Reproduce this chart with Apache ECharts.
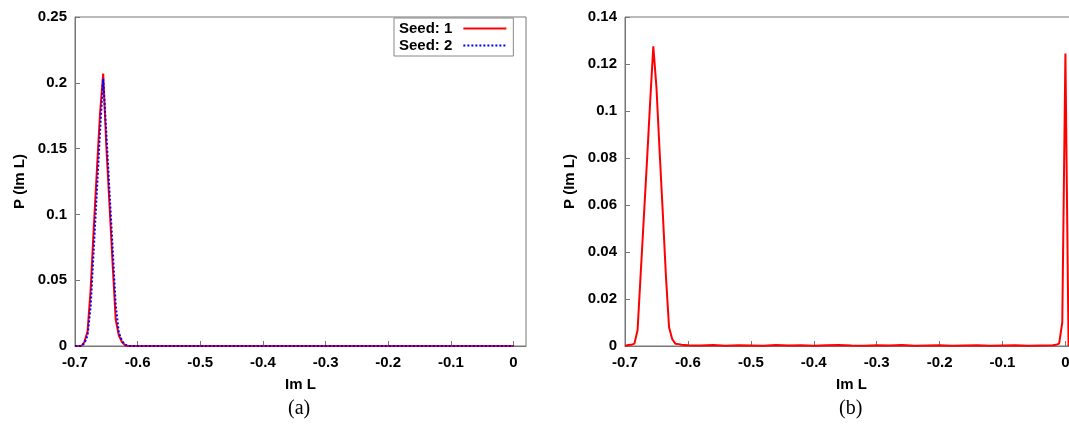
<!DOCTYPE html>
<html>
<head>
<meta charset="utf-8">
<script src="https://cdn.jsdelivr.net/npm/echarts@6/dist/echarts.min.js"></script>
<style>
html,body{margin:0;padding:0;background:#fff;}
#c{width:1069px;height:426px;}
</style>
</head>
<body>
<div id="c"></div>
<script>
// ---- data ----
// panel (a): Im L bins and P(Im L) for two seeds
const imL_a = [-0.700,-0.695,-0.690,-0.685,-0.680,-0.675,-0.670,-0.665,-0.660,-0.655,-0.650,-0.645,-0.640,-0.635,-0.630,-0.625,-0.620,-0.615,0.000];
const seed1 = [0,0,0.000,0.003,0.011,0.043,0.090,0.134,0.177,0.207,0.152,0.108,0.063,0.020,0.008,0.003,0.0005,0,0];
const seed2 = [0,0,0.000,0.002,0.008,0.030,0.074,0.118,0.163,0.203,0.162,0.118,0.075,0.031,0.010,0.004,0.001,0,0];
// panel (b): Im L bins and P(Im L)
const imL_b = [-0.700,-0.695,-0.690,-0.685,-0.680,-0.675,-0.670,-0.665,-0.660,-0.655,-0.650,-0.645,-0.640,-0.635,-0.630,-0.625,-0.620,-0.615,-0.610,-0.600,-0.580,-0.560,-0.540,-0.520,-0.500,-0.480,-0.460,-0.440,-0.420,-0.400,-0.380,-0.360,-0.340,-0.320,-0.300,-0.280,-0.260,-0.240,-0.220,-0.200,-0.180,-0.160,-0.140,-0.120,-0.100,-0.080,-0.060,-0.040,-0.020,-0.015,-0.010,-0.005,0.000,0.005];
const probB = [0,0.0004,0.0005,0.001,0.0068,0.031,0.055,0.079,0.104,0.1275,0.110,0.083,0.057,0.030,0.008,0.003,0.001,0.0008,0.0005,0.0003,0.0002,0.0004,0.0001,0.0003,0.0002,0.0001,0.0004,0.0002,0.0003,0.0001,0.0003,0.0004,0.0002,0.0001,0.0003,0.0002,0.0004,0.0001,0.0002,0.0003,0.0001,0.0002,0.0003,0.0001,0.0002,0.0003,0.0001,0.0002,0.0003,0.0005,0.001,0.010,0.1245,0.0];
const xTicks = [-0.7,-0.6,-0.5,-0.4,-0.3,-0.2,-0.1,0];
const legendNames = ['Seed: 1','Seed: 2'];
const captions = ['(a)','(b)'];

const zip = (xs, ys) => xs.map((x, i) => [x, ys[i]]);

const FONT = '"Liberation Sans", Arial, Helvetica, sans-serif';
const AX = '#777777';

function xAxisCfg(gi){
  return {
    type:'value', gridIndex:gi, min:-0.7, max:0.02,
    name:'Im L', nameLocation:'middle', nameGap:31,
    nameTextStyle:{fontFamily:FONT,fontWeight:'bold',fontSize:15,color:'#000'},
    axisLine:{show:true,onZero:false,lineStyle:{color:AX,width:1}},
    axisTick:{show:true,inside:true,length:5,customValues:xTicks,lineStyle:{color:AX}},
    axisLabel:{show:true,customValues:xTicks,margin:9,fontFamily:FONT,fontWeight:'bold',fontSize:15,color:'#000',
      formatter:v=>Math.abs(v)<1e-9?'0':String(+v.toFixed(1))},
    splitLine:{show:false}
  };
}
function yAxisCfg(gi,max,interval){
  return {
    type:'value', gridIndex:gi, min:0, max:max, interval:interval,
    name:'P (Im L)', nameLocation:'middle', nameGap:48,
    nameTextStyle:{fontFamily:FONT,fontWeight:'bold',fontSize:15,color:'#000'},
    axisLine:{show:true,onZero:false,lineStyle:{color:AX,width:1}},
    axisTick:{show:true,inside:true,length:5,lineStyle:{color:AX}},
    axisLabel:{show:true,margin:8,fontFamily:FONT,fontWeight:'bold',fontSize:15,color:'#000',
      formatter:v=>String(+v.toFixed(2))},
    splitLine:{show:false}
  };
}

const chart = echarts.init(document.getElementById('c'), null, {renderer:'canvas'});
chart.setOption({
  animation:false,
  backgroundColor:'#fff',
  grid:[
    {left:75, top:17, width:451, height:329, outerBoundsMode:'none', show:true, borderColor:AX, borderWidth:1, backgroundColor:'transparent'},
    {left:625, top:17, width:453, height:329, outerBoundsMode:'none', show:true, borderColor:AX, borderWidth:1, backgroundColor:'transparent'}
  ],
  xAxis:[xAxisCfg(0), xAxisCfg(1)],
  yAxis:[yAxisCfg(0,0.25,0.05), yAxisCfg(1,0.14,0.02)],
  legend:{
    data:legendNames, left:394, top:18, orient:'vertical', align:'right',
    itemWidth:43, itemHeight:14, itemGap:2, padding:[3,6,3,5],
    borderColor:'#888', borderWidth:1, backgroundColor:'#fff',
    itemStyle:{opacity:0},
    textStyle:{fontFamily:FONT,fontWeight:'bold',fontSize:15,color:'#000',padding:[0,6,0,0]},
    selectedMode:false
  },
  series:[
    {name:legendNames[0], type:'line', xAxisIndex:0, yAxisIndex:0, data:zip(imL_a,seed1),
      symbol:'none', lineStyle:{color:'#ff0000',width:2}, itemStyle:{color:'#ff0000'}, z:2},
    {name:legendNames[1], type:'line', xAxisIndex:0, yAxisIndex:0, data:zip(imL_a,seed2),
      symbol:'none', lineStyle:{color:'#0000ff',width:2,type:[2,2]}, itemStyle:{color:'#0000ff'}, z:3},
    {name:'b', type:'line', xAxisIndex:1, yAxisIndex:1, data:zip(imL_b,probB),
      symbol:'none', lineStyle:{color:'#ff0000',width:2}, itemStyle:{color:'#ff0000'}, z:2}
  ],
  graphic:[
    {type:'text', left:300-12, top:399, style:{text:captions[0], font:'20px "Liberation Serif", "Times New Roman", serif', fill:'#000'}},
    {type:'text', left:851-12, top:399, style:{text:captions[1], font:'20px "Liberation Serif", "Times New Roman", serif', fill:'#000'}}
  ]
});
</script>
</body>
</html>
